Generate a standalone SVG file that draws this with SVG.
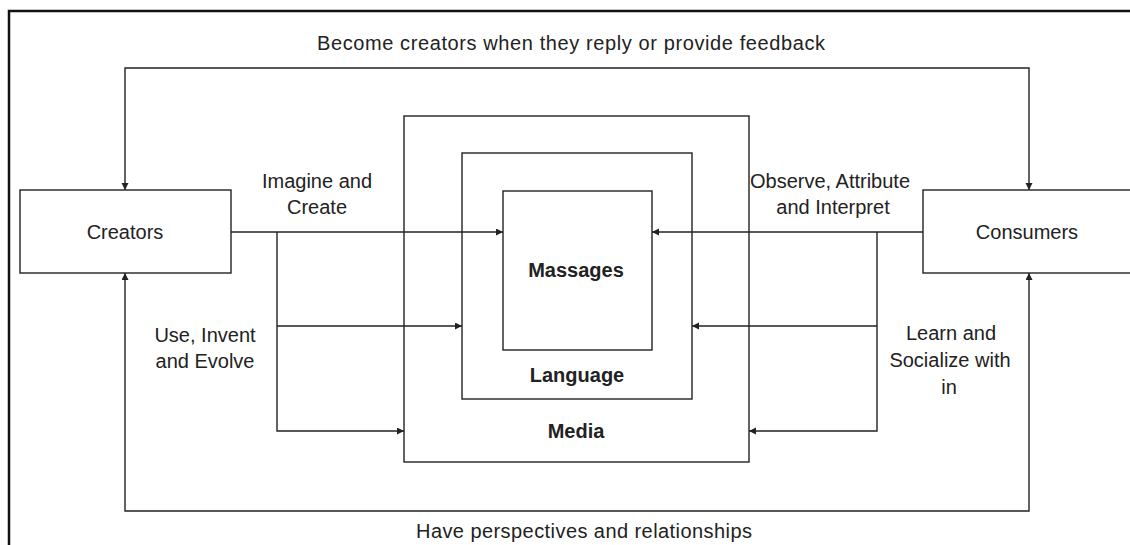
<svg xmlns="http://www.w3.org/2000/svg" width="1130" height="545" viewBox="0 0 1130 545">
<style>
.box{fill:#fff;stroke:#222;stroke-width:1.4}
.ln{fill:none;stroke:#222;stroke-width:1.4}
.t{font-family:"Liberation Sans",Arial,sans-serif;font-size:20px;fill:#222;text-anchor:middle}
.b{font-weight:bold}
</style>
<defs>
<marker id="ah" markerUnits="userSpaceOnUse" markerWidth="8" markerHeight="8" refX="7" refY="3.5" orient="auto-start-reverse"><path d="M0,0 L7,3.5 L0,7 z" fill="#222"/></marker>
</defs>
<rect width="1130" height="545" fill="#fff"/>
<path d="M9,545 V11 H1130" fill="none" stroke="#111" stroke-width="2.5"/>
<g id="media"><rect class="box" x="404" y="116" width="345" height="346"/><text class="t b" x="576" y="438">Media</text></g>
<g id="language"><rect class="box" x="462" y="153" width="230" height="246"/><text class="t b" x="577" y="382">Language</text></g>
<g id="massages"><rect class="box" x="503" y="191" width="149" height="159"/><text class="t b" x="576" y="277">Massages</text></g>
<g id="creators"><rect class="box" x="20" y="190" width="211" height="83"/><text class="t" x="125" y="239">Creators</text></g>
<g id="consumers"><rect class="box" x="923" y="190" width="210" height="83"/><text class="t" x="1027" y="239">Consumers</text></g>
<g id="connectors">
<path class="ln" d="M125,190 V68 H1029 V190" marker-start="url(#ah)" marker-end="url(#ah)"/>
<path class="ln" d="M125,273 V511 H1029 V273" marker-start="url(#ah)" marker-end="url(#ah)"/>
<path class="ln" d="M231,232 H503" marker-end="url(#ah)"/>
<path class="ln" d="M277,232 V431 H404" marker-end="url(#ah)"/>
<path class="ln" d="M277,326 H462" marker-end="url(#ah)"/>
<path class="ln" d="M923,232 H652" marker-end="url(#ah)"/>
<path class="ln" d="M877,232 V431 H749" marker-end="url(#ah)"/>
<path class="ln" d="M877,326 H692" marker-end="url(#ah)"/>
</g>
<g id="labels">
<text class="t" x="571" y="50" textLength="508">Become creators when they reply or provide feedback</text>
<text class="t" x="317" y="188">Imagine and</text>
<text class="t" x="317" y="214">Create</text>
<text class="t" x="205" y="342">Use, Invent</text>
<text class="t" x="205" y="368">and Evolve</text>
<text class="t" x="830" y="188">Observe, Attribute</text>
<text class="t" x="833" y="214">and Interpret</text>
<text class="t" x="951" y="340">Learn and</text>
<text class="t" x="950" y="367">Socialize with</text>
<text class="t" x="949" y="394">in</text>
<text class="t" x="584" y="538" textLength="336">Have perspectives and relationships</text>
</g>
</svg>
